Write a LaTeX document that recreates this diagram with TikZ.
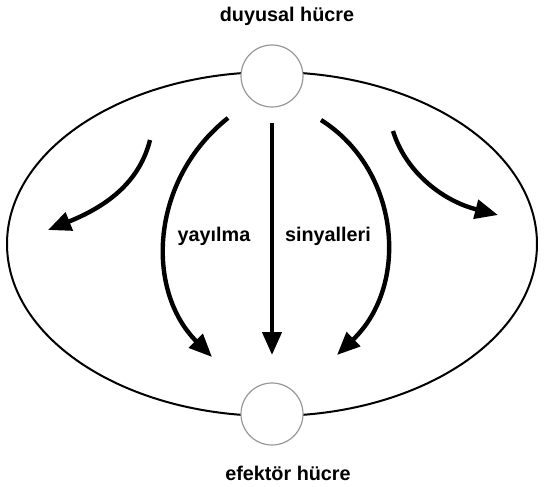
\documentclass[tikz,border=0pt]{standalone}
\usepackage{fontspec}
\setsansfont{Liberation Sans}
\usetikzlibrary{arrows.meta}

\begin{document}
\begin{tikzpicture}[x=1pt, y=-1pt,
    cell/.style={circle, draw=black!40, line width=1.2pt, fill=white, minimum size=62pt, inner sep=0pt},
    lbl/.style={font=\sffamily\bfseries\fontsize{19.8}{22}\selectfont, anchor=base, inner sep=0pt},
    signal/.style={line width=4.4pt, -{Triangle[length=23pt, width=19pt]}}]
    \useasboundingbox (0,0) rectangle (544,487);

    % Body outline
    \draw[line width=2pt] (272,244) ellipse [x radius=265, y radius=172];

    % Sensor cell on top, effector cell below
    \node[cell] (sensor) at (272,76) {};
    \node[cell] (effector) at (272,414) {};
    \node[lbl] (sensorlbl) at (287,22) {duyusal hücre};
    \node[lbl] (effectorlbl) at (288,480) {efektör hücre};

    % Start and end points of the spreading signals
    \coordinate (a1) at (150,140); \coordinate (b1) at (48,230);
    \coordinate (a2) at (228,118); \coordinate (b2) at (212,357);
    \coordinate (a3) at (272,123); \coordinate (b3) at (272,355);
    \coordinate (a4) at (321,120); \coordinate (b4) at (337,355);
    \coordinate (a5) at (393,131); \coordinate (b5) at (498,215);

    % Signals
    \draw[signal] (a1) .. controls (140,180) and (110,205) .. (b1);
    \draw[signal] (a2) .. controls (150,180) and (145,290) .. (b2);
    \draw[signal] (a3) -- (b3);
    \draw[signal] (a4) .. controls (400,170) and (410,285) .. (b4);
    \draw[signal] (a5) .. controls (405,170) and (440,200) .. (b5);

    \node[lbl] (spread) at (214,241) {yayılma};
    \node[lbl] (signals) at (328,241) {sinyalleri};

\end{tikzpicture}
\end{document}
